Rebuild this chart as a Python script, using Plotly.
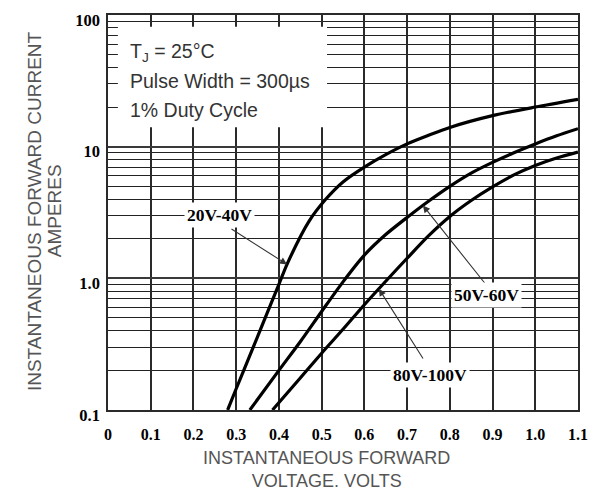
import numpy as np
import plotly.graph_objects as go

# ---- data ----
v_20_40 = [0.28, 0.30, 0.34, 0.37, 0.40, 0.42, 0.47, 0.51, 0.55, 0.60, 0.65, 0.70, 0.75, 0.80, 0.90, 1.0, 1.1]
i_20_40 = [0.1, 0.145, 0.3, 0.52, 0.9, 1.3, 2.7, 4.0, 5.4, 7.0, 8.7, 10.5, 12.2, 14.0, 17.2, 20.0, 22.9]

v_50_60 = [0.332, 0.40, 0.45, 0.50, 0.55, 0.60, 0.65, 0.70, 0.75, 0.80, 0.85, 0.90, 0.95, 1.0, 1.05, 1.1]
i_50_60 = [0.1, 0.2, 0.33, 0.56, 0.94, 1.5, 2.15, 2.9, 3.85, 5.0, 6.3, 7.6, 9.0, 10.5, 12.1, 13.7]

v_80_100 = [0.385, 0.45, 0.50, 0.55, 0.60, 0.65, 0.70, 0.75, 0.80, 0.85, 0.90, 0.95, 1.0, 1.05, 1.1]
i_80_100 = [0.1, 0.175, 0.27, 0.41, 0.63, 0.95, 1.42, 2.1, 2.95, 3.9, 4.95, 6.1, 7.2, 8.2, 9.1]

series_names = ["20V-40V", "50V-60V", "80V-100V"]

x_ticks = [0, 0.1, 0.2, 0.3, 0.4, 0.5, 0.6, 0.7, 0.8, 0.9, 1.0, 1.1]
x_ticktext = ["0", "0.1", "0.2", "0.3", "0.4", "0.5", "0.6", "0.7", "0.8", "0.9", "1.0", "1.1"]
y_ticks = [0.1, 1, 10, 100]
y_ticktext = ["0.1", "1.0", "10", "100"]
y_minor = [m * d for d in (0.1, 1, 10) for m in range(2, 10)]

fig = go.Figure()
for v, i, n in zip([v_20_40, v_50_60, v_80_100], [i_20_40, i_50_60, i_80_100], series_names):
    fig.add_trace(go.Scatter(x=v, y=i, mode="lines", name=n,
                             line=dict(color="black", width=3.2, shape="spline", smoothing=0.8),
                             showlegend=False, hoverinfo="skip"))

fig.update_xaxes(range=[0, 1.1], tickvals=x_ticks, ticktext=x_ticktext,
                 tickfont=dict(family="Liberation Serif", size=16, color="black", weight="bold"),
                 showgrid=True, gridcolor="#2a2a2a", gridwidth=1.6, automargin=False,
                 showline=True, linecolor="#2a2a2a", linewidth=1.6, mirror=True,
                 zeroline=False, ticks="", ticklabelstandoff=9, fixedrange=True)
fig.update_yaxes(type="log", range=[-1.0002, 2.0002], tickvals=y_ticks, ticktext=y_ticktext,
                 tickfont=dict(family="Liberation Serif", size=16.5, color="black", weight="bold"),
                 ticklabeloverflow="allow", automargin=False, ticklabelshift=5,
                 showgrid=True, gridcolor="#3a3a3a", gridwidth=2,
                 minor=dict(tickvals=y_minor, showgrid=True, gridcolor="#222", gridwidth=1.4, ticks=""),
                 showline=True, linecolor="#2a2a2a", linewidth=1.6, mirror=True,
                 zeroline=False, ticks="", ticklabelstandoff=3, fixedrange=True)

# white box behind the conditions text
fig.add_shape(type="rect", xref="paper", yref="paper", x0=0.021, x1=0.466, y0=0.716, y1=0.970,
              fillcolor="white", line=dict(width=0), layer="above")

txtfont = dict(family="Liberation Sans", size=19.5, color="#333")
for txt, yy in [("T<sub>J</sub> = 25°C", 0.906), ("Pulse Width = 300µs", 0.832), ("1% Duty Cycle", 0.760)]:
    fig.add_annotation(text=txt, xref="paper", yref="paper", x=0.043, y=yy,
                       xanchor="left", yanchor="middle", showarrow=False, font=txtfont)

# arrows pointing to the curves
arrow_specs = [
    (v_20_40, i_20_40, 0.419, 0.2855, 2.41),
    (v_50_60, i_50_60, 0.737, 0.889, 0.859),
    (v_80_100, i_80_100, 0.634, 0.7395, 0.24),
]
for v, i, xh, xt, yt in arrow_specs:
    yh = 10 ** np.interp(xh, v, np.log10(i))
    fig.add_annotation(x=xh, y=np.log10(yh), xref="x", yref="y", text="",
                       ax=xt, ay=np.log10(yt), axref="x", ayref="y",
                       showarrow=True, arrowhead=2, arrowsize=1.3, arrowwidth=1.1, arrowcolor="#333")

labfont = dict(family="Liberation Serif", size=17.5, color="black", weight="bold")
for txt, px, py in [(series_names[0], 0.238, 0.494), (series_names[1], 0.806, 0.291), (series_names[2], 0.685, 0.089)]:
    fig.add_annotation(text=txt, xref="paper", yref="paper", x=px, y=py, showarrow=False,
                       xanchor="center", yanchor="middle",
                       font=labfont, bgcolor="white", borderpad=2)

# axis titles
ttl = dict(family="Liberation Sans", size=19, color="#555")
fig.add_annotation(text="INSTANTANEOUS FORWARD CURRENT", xref="paper", yref="paper",
                   x=-0.155, y=0.504, textangle=-90, showarrow=False, font=ttl,
                   xanchor="center", yanchor="middle")
fig.add_annotation(text="AMPERES", xref="paper", yref="paper",
                   x=-0.112, y=0.504, textangle=-90, showarrow=False, font=ttl,
                   xanchor="center", yanchor="middle")
fig.add_annotation(text="INSTANTANEOUS FORWARD<br>VOLTAGE. VOLTS", xref="paper", yref="paper",
                   x=0.464, y=-0.1494, showarrow=False,
                   font=dict(family="Liberation Sans", size=18, color="#555"),
                   xanchor="center", yanchor="middle")

# page body has an 8px margin, so the figure is sized to fit the 598x494 window
fig.update_layout(width=590, height=486, margin=dict(l=100, r=20, t=7, b=84, autoexpand=False),
                  paper_bgcolor="white", plot_bgcolor="white")

fig.write_html("out.html")
